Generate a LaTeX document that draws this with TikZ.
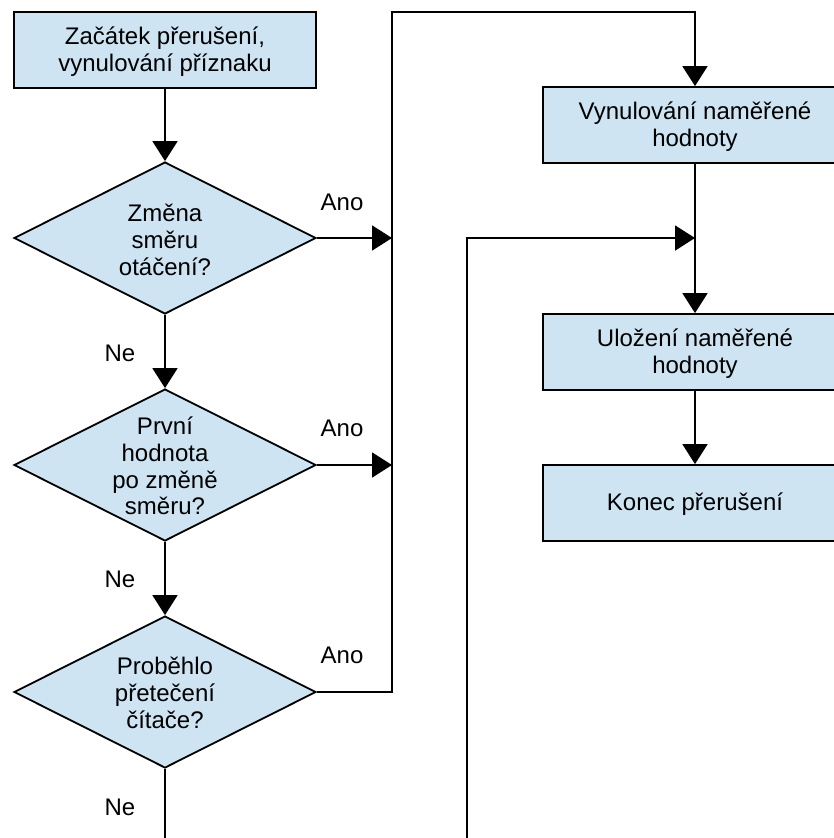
\documentclass[tikz,border=0pt]{standalone}
\usepackage{fontspec}
\setmainfont{Liberation Sans}
\usetikzlibrary{arrows.meta,shapes.geometric}
\definecolor{boxblue}{RGB}{206,228,243}
\begin{document}
\begin{tikzpicture}[x=1pt,y=-1pt,
  line width=1.8pt,
  font=\fontsize{24}{26.7}\selectfont,
  box/.style={draw, fill=boxblue, minimum width=302pt, minimum height=76pt, inner sep=0pt, align=center},
  wbox/.style={box, minimum width=304pt},
  dia/.style={draw, fill=boxblue, diamond, minimum width=302pt, minimum height=152pt, inner sep=0pt},
  txt/.style={align=center, inner sep=0pt},
  lbl/.style={inner sep=0pt, anchor=base},
  arr/.style={-{Triangle[length=20pt,width=25pt]}}]
\useasboundingbox (0,0) rectangle (834,838);
\clip (0,0) rectangle (834,838);
% left column
\node[box] (b1) at (165,50) {};
\node[txt] (tb1) at (165,51.5) {Začátek přerušení,\\vynulování příznaku};
\node[dia] (d1) at (165,238) {};
\node[txt] (t1) at (165,240) {Změna\\směru\\otáčení?};
\node[dia] (d2) at (165,465) {};
\node[txt] (t2) at (165,466) {První\\hodnota\\po změně\\směru?};
\node[dia] (d3) at (165,692) {};
\node[txt] (t3) at (165,693) {Proběhlo\\přetečení\\čítače?};
% right column
\node[wbox] (b2) at (695,125) {};
\node[txt] (tb2) at (695,126.5) {Vynulování naměřené\\hodnoty};
\node[wbox] (b3) at (695,352) {};
\node[txt] (tb3) at (695,353.5) {Uložení naměřené\\hodnoty};
\node[wbox] (b4) at (695,503) {};
\node[txt] (tb4) at (695,504) {Konec přerušení};
% helper coordinates
\coordinate (bus) at (392,12);
\coordinate (join) at (695,238);
\coordinate (loop) at (467,838);
\coordinate (bot) at (165,838);
% labels
\node[lbl] (a1) at (342,210) {Ano};
\node[lbl] (a2) at (342,436) {Ano};
\node[lbl] (a3) at (342,663) {Ano};
\node[lbl] (n1) at (120,361) {Ne};
\node[lbl] (n2) at (120,587) {Ne};
\node[lbl] (n3) at (120,815) {Ne};
% connectors
\draw[arr] (b1) -- (d1);
\draw[arr] (d1) -- (d2);
\draw[arr] (d2) -- (d3);
\draw (d3.south) -- (bot);
\draw[arr] (d1.east) -- (d1.east -| bus);
\draw[arr] (d2.east) -- (d2.east -| bus);
\draw[arr] (d3.east) -| (bus) -| (b2.north);
\draw[arr] (b2) -- (b3);
\draw[arr] (loop) |- (join);
\draw[arr] (b3) -- (b4);
\end{tikzpicture}
\end{document}
